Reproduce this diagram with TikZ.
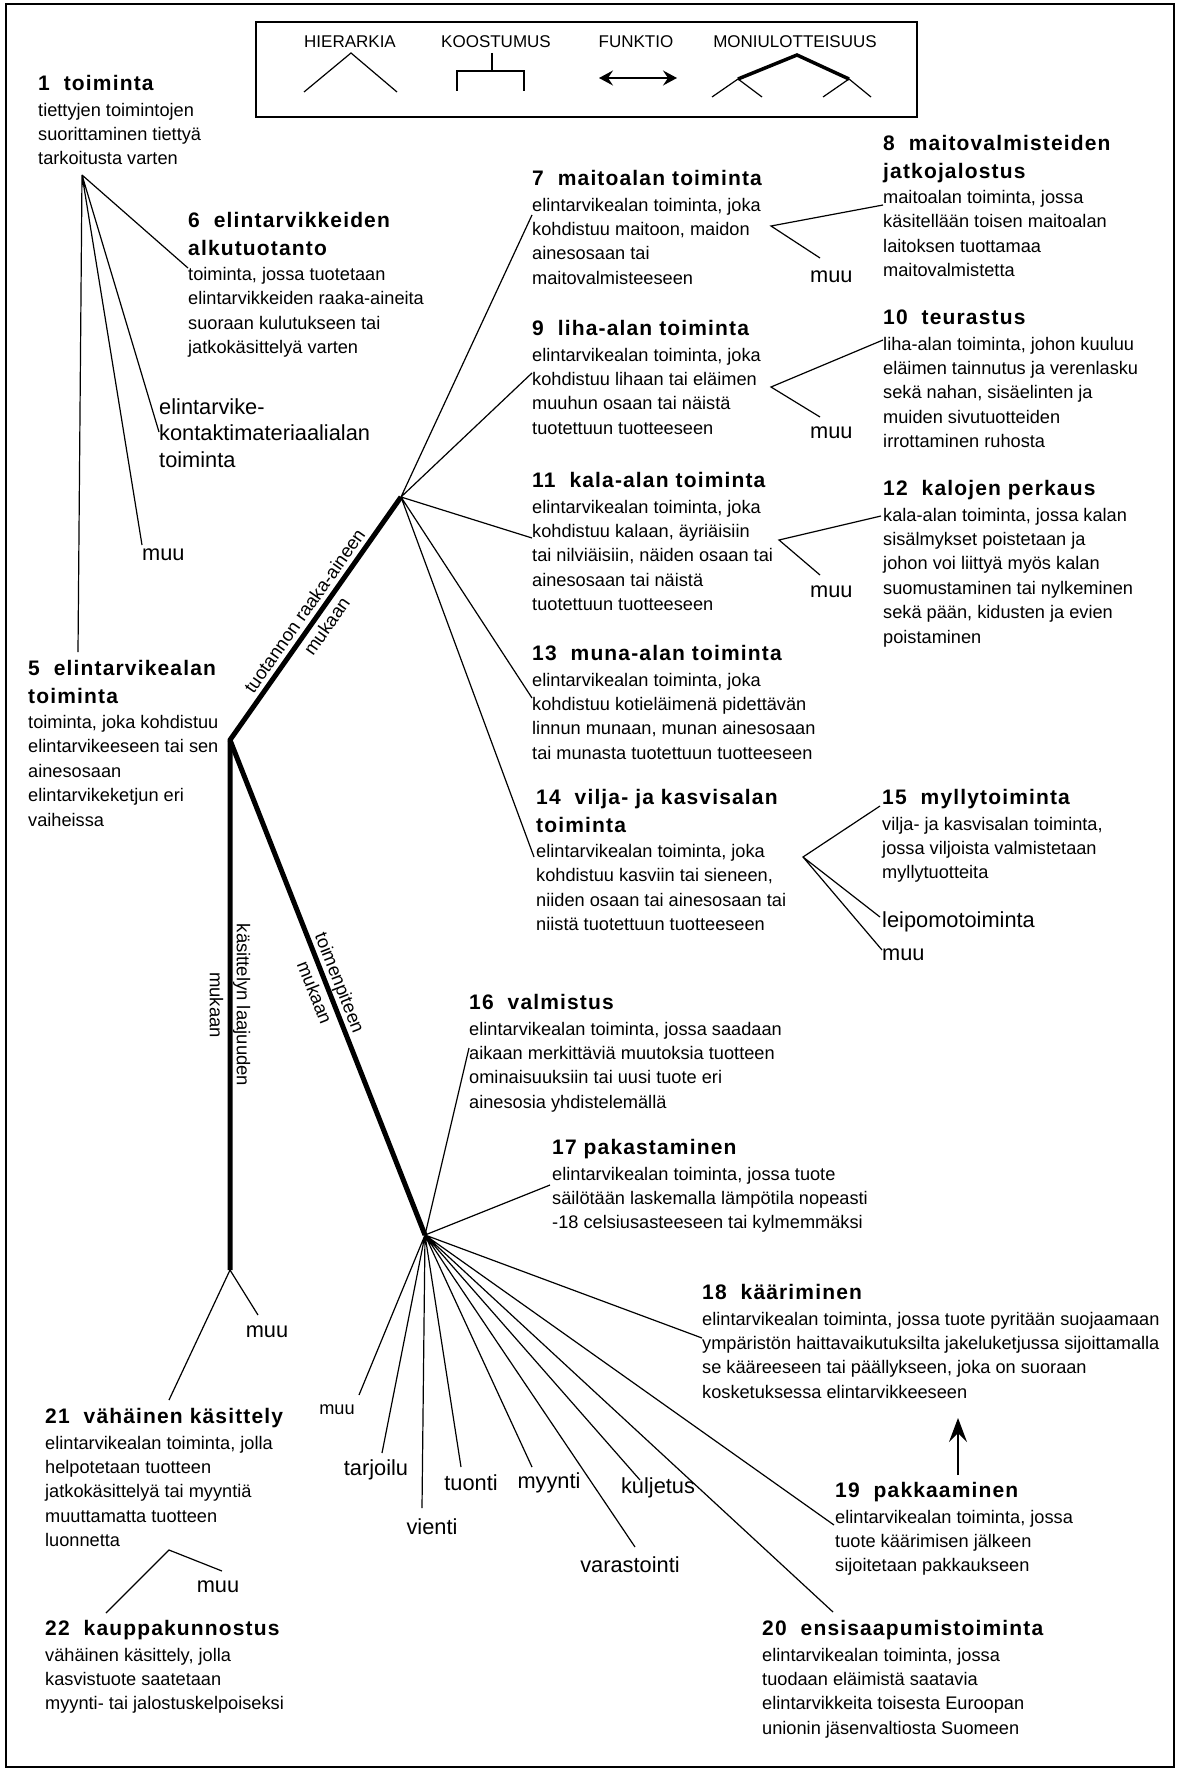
\documentclass[tikz,border=0pt]{standalone}
\usepackage{fontspec}
\setmainfont{Liberation Sans}
\newfontfamily\tfont{Liberation Sans}[LetterSpace=5.5]
\usetikzlibrary{arrows.meta}
\newcommand\bodyf{\fontsize{18.2pt}{24.4pt}\selectfont}
\newcommand\titf{\tfont\bfseries\fontsize{21pt}{24.4pt}\selectfont}
\newcommand\bigf{\fontsize{21.8pt}{26.5pt}\selectfont}
\newcommand\legf{\fontsize{17pt}{20pt}\selectfont}
\newcommand\tp{\rule{0pt}{16pt}}
\newcommand\tpb{\rule{0pt}{17pt}}
\begin{document}
\begin{tikzpicture}[x=1pt,y=-1pt,
  blk/.style={anchor=north west,inner sep=0pt,align=left,font=\bodyf},
  bigblk/.style={anchor=north west,inner sep=0pt,align=left,font=\bigf},
  lbl/.style={inner sep=0pt,font=\bigf},
  sml/.style={inner sep=0pt,font=\bodyf},
  legt/.style={inner sep=0pt,font=\legf},
  axl/.style={inner sep=0pt,align=center,font=\fontsize{18.5pt}{27pt}\selectfont},
  thin/.style={line width=1.2pt},
  trunk/.style={line width=5pt},
  arr/.style={-{Stealth[length=24pt,width=18pt,inset=9pt]}},
]
\useasboundingbox (0,0) rectangle (1179,1771);
\draw[line width=2pt] (6,4) rectangle (1174,1767);

% ---------------- legend
\draw[line width=1.5pt] (256,22) rectangle (917,117);
\node[legt] (lh) at (350,42) {HIERARKIA};
\node[legt] (lk) at (496,42) {KOOSTUMUS};
\node[legt] (lf) at (636,42) {FUNKTIO};
\node[legt] (lm) at (795,42) {MONIULOTTEISUUS};
\draw[thin] (304,92) -- (351,53) -- (397,92);
\draw[thin] (492,53) -- (492,71) (457,91) -- (457,71) -- (524,71) -- (524,91);
\draw[line width=1.5pt,{Stealth[length=14pt,width=15pt,inset=5pt]}-{Stealth[length=14pt,width=15pt,inset=5pt]}] (599,78) -- (677,78);
\draw[line width=3.5pt] (738,79) -- (797,55) -- (849,79);
\draw[thin] (712,97) -- (738,79) -- (762,97) (823,97) -- (849,79) -- (871,97);

% ---------------- text blocks
\node[blk] (n1) at (38,74.5) {{\titf\tp 1\ \ toiminta}\\[1pt]
 tiettyjen toimintojen\\ suorittaminen tiettyä\\ tarkoitusta varten};
\node[blk] (n6) at (188,211.5) {{\titf\tp 6\ \ elintarvikkeiden}\\[3.5pt]{\titf alkutuotanto}\\[0.5pt]
 toiminta, jossa tuotetaan\\ elintarvikkeiden raaka-aineita\\ suoraan kulutukseen tai\\ jatkokäsittelyä varten};
\node[bigblk] (nel) at (159,397) {\tpb elintarvike-\\ kontaktimateriaalialan\\ toiminta};
\node[lbl,anchor=west] (muu1) at (142,555) {muu};
\node[blk] (n5) at (28,659.5) {{\titf\tp 5\ \ elintarvikealan}\\[3.5pt]{\titf toiminta}\\[0.5pt]
 toiminta, joka kohdistuu\\ elintarvikeeseen tai sen\\ ainesosaan\\ elintarvikeketjun eri\\ vaiheissa};

\node[blk] (n7) at (532,169.5) {{\titf\tp 7\ \ maitoalan toiminta}\\[1pt]
 elintarvikealan toiminta, joka\\ kohdistuu maitoon, maidon\\ ainesosaan tai\\ maitovalmisteeseen};
\node[blk] (n8) at (883,134.5) {{\titf\tp 8\ \ maitovalmisteiden}\\[3.5pt]{\titf jatkojalostus}\\[0.5pt]
 maitoalan toiminta, jossa\\ käsitellään toisen maitoalan\\ laitoksen tuottamaa\\ maitovalmistetta};
\node[lbl,anchor=west] (muu7) at (810,277) {muu};

\node[blk] (n9) at (532,319.5) {{\titf\tp 9\ \ liha-alan toiminta}\\[1pt]
 elintarvikealan toiminta, joka\\ kohdistuu lihaan tai eläimen\\ muuhun osaan tai näistä\\ tuotettuun tuotteeseen};
\node[blk] (n10) at (883,308.5) {{\titf\tp 10\ \ teurastus}\\[1pt]
 liha-alan toiminta, johon kuuluu\\ eläimen tainnutus ja verenlasku\\ sekä nahan, sisäelinten ja\\ muiden sivutuotteiden\\ irrottaminen ruhosta};
\node[lbl,anchor=west] (muu9) at (810,433) {muu};

\node[blk] (n11) at (532,471.5) {{\titf\tp 11\ \ kala-alan toiminta}\\[1pt]
 elintarvikealan toiminta, joka\\ kohdistuu kalaan, äyriäisiin\\ tai nilviäisiin, näiden osaan tai\\ ainesosaan tai näistä\\ tuotettuun tuotteeseen};
\node[blk] (n12) at (883,479.5) {{\titf\tp 12\ \ kalojen perkaus}\\[1pt]
 kala-alan toiminta, jossa kalan\\ sisälmykset poistetaan ja\\ johon voi liittyä myös kalan\\ suomustaminen tai nylkeminen\\ sekä pään, kidusten ja evien\\ poistaminen};
\node[lbl,anchor=west] (muu11) at (810,592) {muu};

\node[blk] (n13) at (532,644.5) {{\titf\tp 13\ \ muna-alan toiminta}\\[1pt]
 elintarvikealan toiminta, joka\\ kohdistuu kotieläimenä pidettävän\\ linnun munaan, munan ainesosaan\\ tai munasta tuotettuun tuotteeseen};

\node[blk] (n14) at (536,788.5) {{\titf\tp 14\ \ vilja- ja kasvisalan}\\[3.5pt]{\titf toiminta}\\[0.5pt]
 elintarvikealan toiminta, joka\\ kohdistuu kasviin tai sieneen,\\ niiden osaan tai ainesosaan tai\\ niistä tuotettuun tuotteeseen};
\node[blk] (n15) at (882,788.5) {{\titf\tp 15\ \ myllytoiminta}\\[1pt]
 vilja- ja kasvisalan toiminta,\\ jossa viljoista valmistetaan\\ myllytuotteita};
\node[lbl,anchor=west] (leipo) at (882,922) {leipomotoiminta};
\node[lbl,anchor=west] (muu15) at (882,955) {muu};

\node[blk] (n16) at (469,993.5) {{\titf\tp 16\ \ valmistus}\\[1pt]
 elintarvikealan toiminta, jossa saadaan\\ aikaan merkittäviä muutoksia tuotteen\\ ominaisuuksiin tai uusi tuote eri\\ ainesosia yhdistelemällä};
\node[blk] (n17) at (552,1138.5) {{\titf\tp 17 pakastaminen}\\[1pt]
 elintarvikealan toiminta, jossa tuote\\ säilötään laskemalla lämpötila nopeasti\\ -18 celsiusasteeseen tai kylmemmäksi};
\node[blk] (n18) at (702,1283.5) {{\titf\tp 18\ \ kääriminen}\\[1pt]
 elintarvikealan toiminta, jossa tuote pyritään suojaamaan\\ ympäristön haittavaikutuksilta jakeluketjussa sijoittamalla\\ se kääreeseen tai päällykseen, joka on suoraan\\ kosketuksessa elintarvikkeeseen};
\node[blk] (n19) at (835,1481.5) {{\titf\tp 19\ \ pakkaaminen}\\[1pt]
 elintarvikealan toiminta, jossa\\ tuote käärimisen jälkeen\\ sijoitetaan pakkaukseen};
\node[blk] (n20) at (762,1619.5) {{\titf\tp 20\ \ ensisaapumistoiminta}\\[1pt]
 elintarvikealan toiminta, jossa\\ tuodaan eläimistä saatavia\\ elintarvikkeita toisesta Euroopan\\ unionin jäsenvaltiosta Suomeen};

\node[sml] (muuf) at (337,1410) {muu};
\node[lbl] (tarj) at (376,1470) {tarjoilu};
\node[lbl] (vien) at (432,1527) {vienti};
\node[lbl] (tuon) at (471,1483) {tuonti};
\node[lbl] (myyn) at (549,1483) {myynti};
\node[lbl] (vara) at (630,1565) {varastointi};
\node[lbl] (kulj) at (658,1488) {kuljetus};

\node[lbl] (muuv) at (267,1332) {muu};
\node[blk] (n21) at (45,1407.5) {{\titf\tp 21\ \ vähäinen käsittely}\\[1pt]
 elintarvikealan toiminta, jolla\\ helpotetaan tuotteen\\ jatkokäsittelyä tai myyntiä\\ muuttamatta tuotteen\\ luonnetta};
\node[lbl] (muu21) at (218,1587) {muu};
\node[blk] (n22) at (45,1619.5) {{\titf\tp 22\ \ kauppakunnostus}\\[1pt]
 vähäinen käsittely, jolla\\ kasvistuote saatetaan\\ myynti- tai jalostuskelpoiseksi};

% ---------------- coordinates
\coordinate (h1) at (82,175);
\coordinate (e6) at (188,268);
\coordinate (eel) at (159,432);
\coordinate (emuu1) at (142,545);
\coordinate (e5) at (78,652);
\coordinate (b5) at (230,740);
\coordinate (r) at (401,497);
\coordinate (v) at (230,1270);
\coordinate (p) at (425,1235);
\coordinate (e7) at (532,215);
\coordinate (e9) at (532,373);
\coordinate (e11) at (532,538);
\coordinate (e13) at (532,698);
\coordinate (e14) at (534,857);
\coordinate (h7) at (771,226);
\coordinate (e8) at (883,205);
\coordinate (em7) at (820,258);
\coordinate (h9) at (771,387);
\coordinate (e10) at (883,340);
\coordinate (em9) at (820,417);
\coordinate (h11) at (779,540);
\coordinate (e12) at (881,516);
\coordinate (em11) at (820,575);
\coordinate (h14) at (803,857);
\coordinate (e15) at (880,806);
\coordinate (eleip) at (880,917);
\coordinate (em15) at (882,950);
\coordinate (f16) at (469,1048);
\coordinate (f17) at (550,1185);
\coordinate (f18) at (702,1338);
\coordinate (f19) at (834,1525);
\coordinate (f20) at (833,1612);
\coordinate (fk) at (640,1480);
\coordinate (fva) at (635,1547);
\coordinate (fmy) at (532,1467);
\coordinate (ftu) at (461,1467);
\coordinate (fvi) at (422,1508);
\coordinate (fta) at (382,1453);
\coordinate (fmu) at (359,1395);
\coordinate (e21) at (169,1400);
\coordinate (emv) at (258,1315);
\coordinate (h21) at (169,1550);
\coordinate (e22) at (106,1613);
\coordinate (em21) at (222,1571);
\coordinate (a19) at (958,1475);
\coordinate (a18) at (958,1418);

% ---------------- connectors
\draw[thin] (h1) -- (e6) (h1) -- (eel) (h1) -- (emuu1) (h1) -- (e5);
\draw[trunk] (r) -- (b5) -- (v);
\draw[trunk] (b5) -- (p);
\path (b5) -- (r) node[axl,midway,rotate=54.9] (lraw) {tuotannon raaka-aineen\\mukaan};
\path (b5) -- (v) node[axl,midway,rotate=-90] (lkas) {käsittelyn laajuuden\\mukaan};
\path (b5) -- (p) node[axl,midway,rotate=-68.5] (ltoi) {toimenpiteen\\mukaan};
\draw[thin] (r) -- (e7) (r) -- (e9) (r) -- (e11) (r) -- (e13) (r) -- (e14);
\draw[thin] (e8) -- (h7) -- (em7);
\draw[thin] (e10) -- (h9) -- (em9);
\draw[thin] (e12) -- (h11) -- (em11);
\draw[thin] (e15) -- (h14) -- (eleip) (h14) -- (em15);
\draw[thin] (p) -- (f16) (p) -- (f17) (p) -- (f18) (p) -- (f19) (p) -- (f20)
  (p) -- (fk) (p) -- (fva) (p) -- (fmy) (p) -- (ftu) (p) -- (fvi) (p) -- (fta) (p) -- (fmu);
\draw[thin] (e21) -- (v) -- (emv);
\draw[thin] (e22) -- (h21) -- (em21);
\draw[thin,arr] (a19) -- (a18);
\end{tikzpicture}
\end{document}
